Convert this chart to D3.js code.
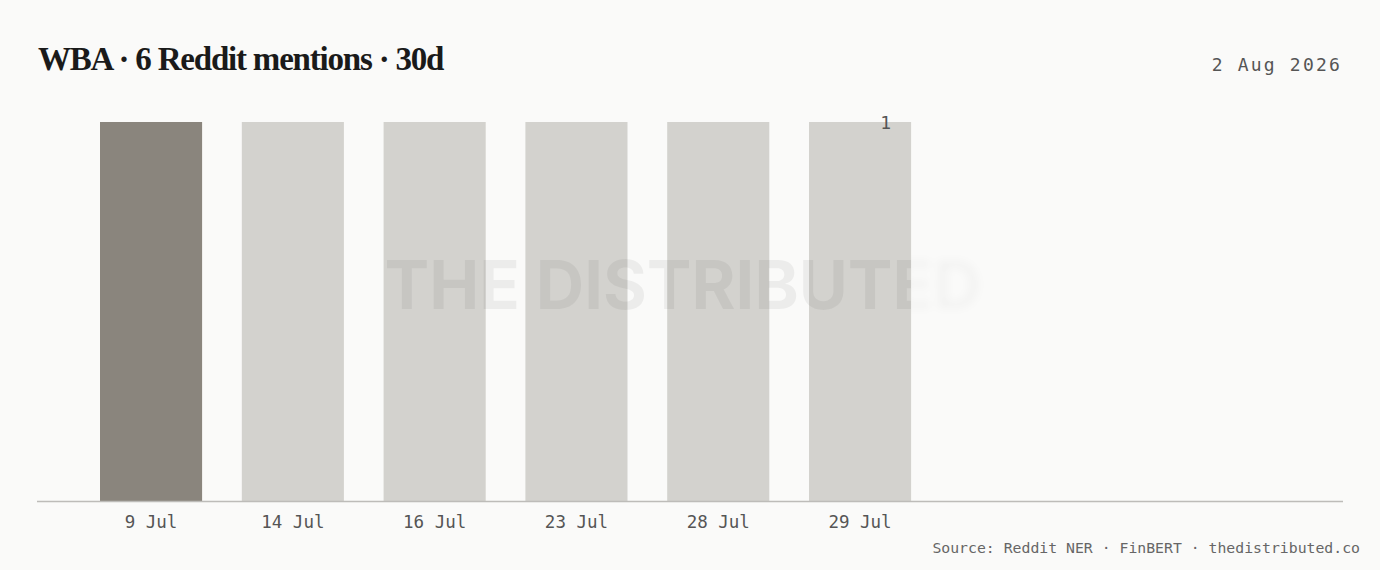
<!DOCTYPE html>
<html>
<head>
<meta charset="utf-8">
<script src="https://cdn.jsdelivr.net/npm/d3@7"></script>
<style>
  html, body { margin: 0; padding: 0; background: #fafaf9; }
  svg { display: block; }
</style>
</head>
<body>
<div class="chart"></div>
<script>
// data
const dates = ['9 Jul', '14 Jul', '16 Jul', '23 Jul', '28 Jul', '29 Jul'];
const mentions = [1, 1, 1, 1, 1, 1];
const highlight = ['9 Jul'];

const title = 'WBA · 6 Reddit mentions · 30d';
const asOf = '2 Aug 2026';
const source = 'Source: Reddit NER · FinBERT · thedistributed.co';

const W = 1380, H = 570;
const axisLeft = 37, axisRight = 1343;
const baseY = 501, topY = 122;

const svg = d3.select('.chart')
    .append('svg')
    .attr('width', W)
    .attr('height', H);

svg.append('rect')
    .attr('width', W)
    .attr('height', H)
    .attr('fill', '#fafaf9');

const rows = dates.map((d, i) => ({ date: d, value: mentions[i] }));

// band scale; bars keep a fixed step so they sit on the left like the original
const x = d3.scaleBand()
    .domain(dates)
    .range([60.3, 950.8])
    .paddingInner(0.28)
    .paddingOuter(0.28);

const y = d3.scaleLinear()
    .domain([0, d3.max(mentions)])
    .range([baseY, topY]);

svg.append('g')
    .selectAll('rect')
    .data(rows)
    .join('rect')
    .attr('x', d => x(d.date))
    .attr('y', d => y(d.value))
    .attr('width', x.bandwidth())
    .attr('height', d => y(0) - y(d.value))
    .attr('fill', d => highlight.includes(d.date) ? '#8a857d' : '#d3d2ce');

// baseline
svg.append('line')
    .attr('x1', axisLeft)
    .attr('x2', axisRight)
    .attr('y1', baseY + 0.5)
    .attr('y2', baseY + 0.5)
    .attr('stroke', '#bdbcb9')
    .attr('stroke-width', 1.5);

// x axis labels
const xAxis = d3.axisBottom(x).tickSize(0).tickPadding(14);
const gx = svg.append('g')
    .attr('transform', `translate(0,${baseY + 1})`)
    .call(xAxis);
gx.select('.domain').remove();
gx.selectAll('text')
    .attr('font-family', '"DejaVu Sans Mono", monospace')
    .attr('font-size', 17.5)
    .attr('fill', '#555')
    .attr('dy', '0.71em');

// max value label on the last bar
const last = rows[rows.length - 1];
svg.append('text')
    .attr('x', x(last.date) + x.bandwidth() - 20)
    .attr('y', y(d3.max(mentions)) + 7)
    .attr('text-anchor', 'end')
    .attr('font-family', '"DejaVu Sans Mono", monospace')
    .attr('font-size', 18)
    .attr('fill', '#555')
    .text(d3.max(mentions));

// watermark: crisp part, then a blurred tail
const defs = svg.append('defs');
defs.append('filter').attr('id', 'wmBlur')
    .attr('x', '-10%').attr('y', '-30%').attr('width', '120%').attr('height', '160%')
    .append('feGaussianBlur').attr('stdDeviation', 4);
const cut = x(last.date) + x.bandwidth();
defs.append('clipPath').attr('id', 'clipL')
    .append('rect').attr('x', 0).attr('y', 0).attr('width', cut).attr('height', H);
defs.append('clipPath').attr('id', 'clipR')
    .append('rect').attr('x', cut).attr('y', 0).attr('width', W - cut).attr('height', H);

function watermark(g) {
    g.append('text')
        .attr('x', 683)
        .attr('y', 309)
        .attr('text-anchor', 'middle')
        .attr('font-family', 'Inter, "Liberation Sans", sans-serif')
        .attr('font-weight', 700)
        .attr('font-size', 67)
        .attr('fill', 'rgba(0,0,0,0.055)')
        .text('THE DISTRIBUTED');
}
svg.append('g').attr('clip-path', 'url(#clipL)').call(watermark);
svg.append('g').attr('clip-path', 'url(#clipR)')
    .append('g').attr('filter', 'url(#wmBlur)').attr('opacity', 0.55).call(watermark);

// header
svg.append('text')
    .attr('x', 38)
    .attr('y', 70)
    .attr('font-family', '"Liberation Serif", "DejaVu Serif", serif')
    .attr('font-weight', 700)
    .attr('font-size', 33)
    .attr('letter-spacing', -1.2)
    .attr('fill', '#1a1a1a')
    .text(title);

svg.append('text')
    .attr('x', 1342)
    .attr('y', 71)
    .attr('text-anchor', 'end')
    .attr('font-family', '"DejaVu Sans Mono", monospace')
    .attr('font-size', 18)
    .attr('letter-spacing', 2.2)
    .attr('fill', '#555')
    .text(asOf);

svg.append('text')
    .attr('x', 1360)
    .attr('y', 553)
    .attr('text-anchor', 'end')
    .attr('font-family', '"DejaVu Sans Mono", monospace')
    .attr('font-size', 14.8)
    .attr('fill', '#666')
    .text(source);
</script>
</body>
</html>
